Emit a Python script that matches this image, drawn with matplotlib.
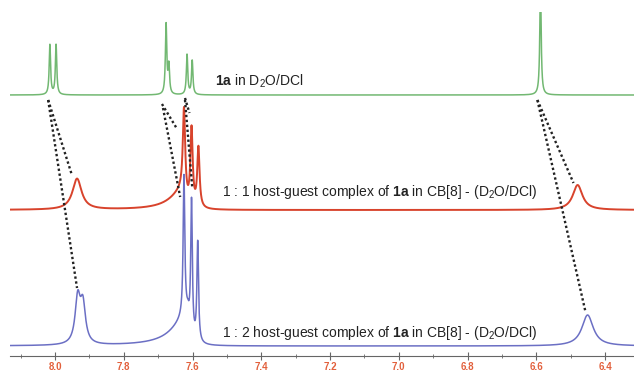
import numpy as np
import matplotlib.pyplot as plt

plt.rcParams['font.family'] = ['Liberation Sans', 'DejaVu Sans']
plt.rcParams['mathtext.fontset'] = 'custom'
plt.rcParams['mathtext.rm'] = 'Liberation Sans'
plt.rcParams['mathtext.bf'] = 'Liberation Sans:bold'
plt.rcParams['mathtext.default'] = 'regular'

# peak lists: position (ppm), height, half width left, half width right
green_pos = [8.015, 7.997, 7.677, 7.669, 7.616, 7.601, 6.588]
green_h = [50, 50, 70, 28, 40, 34, 110]
green_wl = [0.0024, 0.0024, 0.0024, 0.0025, 0.0024, 0.0024, 0.0024]
green_wr = green_wl

red_pos = [7.936, 7.625, 7.603, 7.583, 7.625, 6.480]
red_h = [31, 80, 78, 60, 20, 25]
red_wl = [0.016, 0.004, 0.004, 0.004, 0.045, 0.017]
red_wr = [0.016, 0.004, 0.004, 0.004, 0.007, 0.017]

blue_pos = [7.934, 7.919, 7.625, 7.603, 7.585, 7.615, 6.451]
blue_h = [45, 38, 140, 135, 100, 30, 31]
blue_wl = [0.009, 0.009, 0.0028, 0.0028, 0.0028, 0.05, 0.02]
blue_wr = [0.009, 0.009, 0.0028, 0.0028, 0.0028, 0.008, 0.02]

baselines = {'green': 261, 'red': 146, 'blue': 10}

# dotted correlation lines: (ppm start, y start, ppm end, y end)
links = [
    (8.020, 256, 7.951, 181),
    (8.020, 256, 7.936, 68),
    (7.689, 252, 7.645, 227),
    (7.686, 248, 7.636, 159),
    (7.622, 258, 7.609, 243),
    (7.622, 256, 7.601, 169),
    (6.597, 256, 6.492, 173),
    (6.597, 256, 6.457, 44),
]

tick_vals = [8.0, 7.8, 7.6, 7.4, 7.2, 7.0, 6.8, 6.6, 6.4]

ppm = np.linspace(8.14, 6.30, 6000)


def spectrum(pos, h, wl, wr, base):
    y = np.full_like(ppm, base, dtype=float)
    for p, a, gl, gr in zip(pos, h, wl, wr):
        g = np.where(ppm > p, gl, gr)
        y += a * g**2 / ((ppm - p)**2 + g**2)
    return y


fig = plt.figure(figsize=(6.34, 3.75), dpi=100)
ax = fig.add_axes([10/634, 19/375, 624/634, 344/375])

ax.plot(ppm, spectrum(blue_pos, blue_h, blue_wl, blue_wr, baselines['blue']),
        color='#6b6fc4', lw=1.1)
ax.plot(ppm, spectrum(red_pos, red_h, red_wl, red_wr, baselines['red']),
        color='#d8432c', lw=1.4)
ax.plot(ppm, spectrum(green_pos, green_h, green_wl, green_wr, baselines['green']),
        color='#72b872', lw=1.1)

for x0, y0, x1, y1 in links:
    ax.plot([x0, x1], [y0, y1], color='#222222', lw=1.7, linestyle=(0, (1, 1.1)))

ax.text(7.534, 275, r'$\mathbf{1a}$ in D$_2$O/DCl', fontsize=10, va='center', ha='left',
        color='#222222')
ax.text(7.514, 164, r'1 : 1 host-guest complex of $\mathbf{1a}$ in CB[8] - (D$_2$O/DCl)',
        fontsize=10, va='center', ha='left', color='#222222')
ax.text(7.514, 23, r'1 : 2 host-guest complex of $\mathbf{1a}$ in CB[8] - (D$_2$O/DCl)',
        fontsize=10, va='center', ha='left', color='#222222')

ax.set_xlim(8.131, 6.316)
ax.set_ylim(0, 344)
ax.set_xticks(tick_vals)
ax.set_xticklabels([f'{v:.1f}' for v in tick_vals], fontweight='bold')
ax.set_xticks(np.arange(8.1, 6.3, -0.2), minor=True)
ax.set_yticks([])
for s in ['top', 'left', 'right']:
    ax.spines[s].set_visible(False)
ax.spines['bottom'].set_color('#666666')
ax.tick_params(axis='x', which='major', direction='inout', length=6, color='#666666',
               labelsize=7, labelcolor='#e2603c', pad=1.5)
ax.tick_params(axis='x', which='minor', direction='inout', length=3, color='#666666')
ax.patch.set_alpha(0)

fig.savefig('out.png', dpi=100)
